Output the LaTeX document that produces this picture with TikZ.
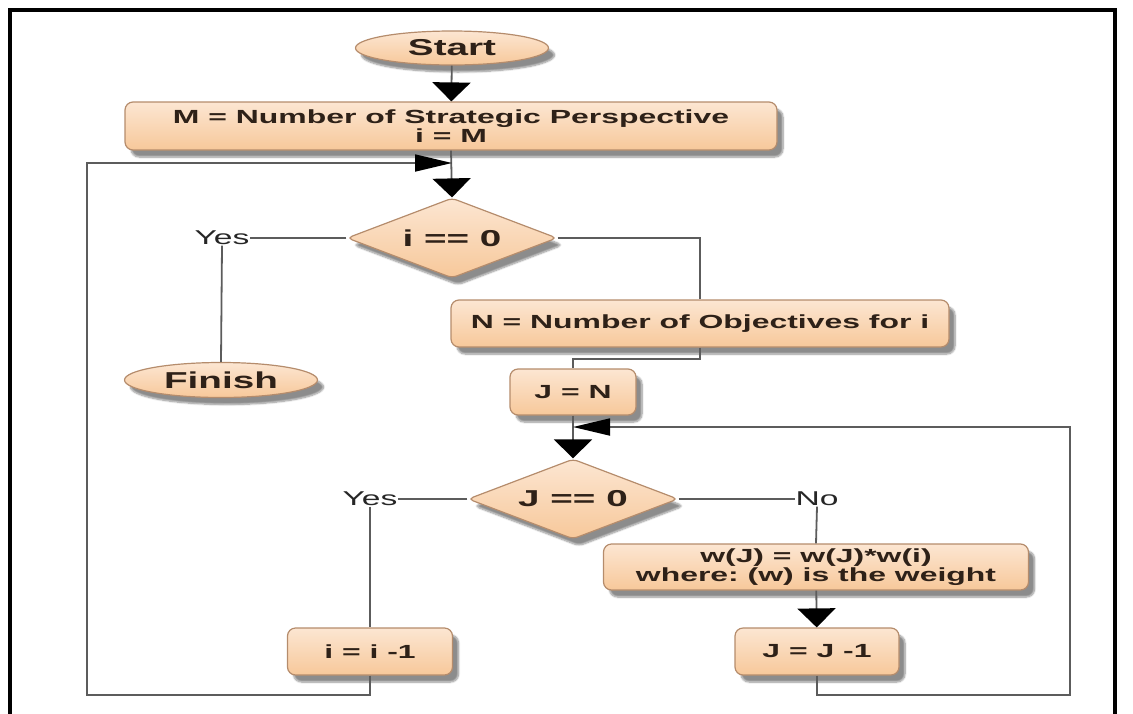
\documentclass[tikz,border=0pt]{standalone}
\usepackage{fontspec}
\newfontfamily\chartfont{Liberation Sans}[FakeStretch=1.68]
\usepackage{xcolor}
\usetikzlibrary{arrows.meta, positioning, shapes.geometric, shadows.blur}
\frenchspacing

\definecolor{peachtop}{HTML}{FCE6D2}
\definecolor{peachbot}{HTML}{F7C89A}
\definecolor{edgebrown}{HTML}{B58C6C}
\definecolor{linegray}{HTML}{5C5C5C}
\definecolor{inktext}{HTML}{2E2118}

\begin{document}
\begin{tikzpicture}[x=1pt, y=-1pt,
    procbox/.style={draw=edgebrown, line width=1.2pt, rounded corners=8pt,
        top color=peachtop, bottom color=peachbot, text=inktext,
        blur shadow={shadow xshift=6pt, shadow yshift=-7pt, shadow opacity=45, shadow blur steps=8},
        font=\chartfont\bfseries\fontsize{19}{18.5}\selectfont, align=center, inner sep=0pt},
    termnode/.style={procbox, ellipse, sharp corners, font=\chartfont\bfseries\fontsize{23}{24}\selectfont},
    decision/.style={procbox, diamond, aspect=2.6, rounded corners=5pt, font=\chartfont\bfseries\fontsize{23}{24}\selectfont},
    answer/.style={font=\chartfont\fontsize{20}{20}\selectfont, text=black!85, inner sep=0.5pt},
    conn/.style={draw=linegray, line width=1.8pt},
    vtip/.style={-{Triangle[width=38pt, length=19pt, color=black]}},
    htip/.style={-{Triangle[width=17pt, length=37pt, color=black]}}]

    \useasboundingbox (0,0) rectangle (1133,713);
    \draw[line width=3.5pt] (10,725) -- (10,10) -- (1115,10) -- (1115,725);

    % outer loop over the perspectives
    \node[termnode, minimum width=193pt, minimum height=34pt] (start) at (452,48) {Start};
    \node[procbox, minimum width=652pt, minimum height=48pt] (mbox) at (451,126)
        {M = Number of Strategic Perspective\\i = M};
    \coordinate (joinI) at (452,163);
    \node[decision, minimum width=210pt, minimum height=80pt] (idec) at (452,238) {i == 0};
    \node[answer] (yes1) at (222,238) {Yes};
    \node[termnode, minimum width=193pt, minimum height=35pt] (finish) at (221,380) {Finish};
    \node[procbox, minimum width=498pt, minimum height=47pt] (nbox) at (700,323.5)
        {N = Number of Objectives for i};
    \node[procbox, minimum width=126pt, minimum height=46pt] (jn) at (573,392) {J = N};

    % inner loop over the objectives
    \coordinate (joinJ) at (573,427);
    \node[decision, minimum width=210pt, minimum height=80pt] (jdec) at (573,499) {J == 0};
    \node[answer] (yes2) at (370,499) {Yes};
    \node[answer] (no) at (817,499) {No};
    \node[procbox, minimum width=425pt, minimum height=46pt] (wbox) at (816,567)
        {w(J) = w(J)*w(i)\\where: (w) is the weight};
    \node[procbox, minimum width=164pt, minimum height=47pt] (jm1) at (817,651.5) {J = J -1};
    \node[procbox, minimum width=165pt, minimum height=47pt] (im1) at (370,651.5) {i = i -1};

    \draw[conn, vtip] (start) -- (mbox);
    \draw[conn, vtip] (mbox.south) -- (idec.north);
    \draw[conn] (idec.west) -- (yes1.east);
    \draw[conn] (yes1.south) -- (finish.north);
    \draw[conn] (idec.east) -| (nbox.north);
    \draw[conn] (nbox.south) -- ++(0,11) -| (jn.north);
    \draw[conn, vtip] (jn.south) -- (jdec.north);
    \draw[conn] (jdec.west) -- (yes2.east);
    \draw[conn] (yes2.south) -- (im1.north);
    \draw[conn] (jdec.east) -- (no.west);
    \draw[conn] (no.south) -- (wbox.north);
    \draw[conn, vtip] (wbox) -- (jm1);
    \draw[conn, htip] (jm1.south) |- (1070,695) |- (joinJ);
    \draw[conn, htip] (im1.south) |- (87,695) |- (joinI);
\end{tikzpicture}
\end{document}
